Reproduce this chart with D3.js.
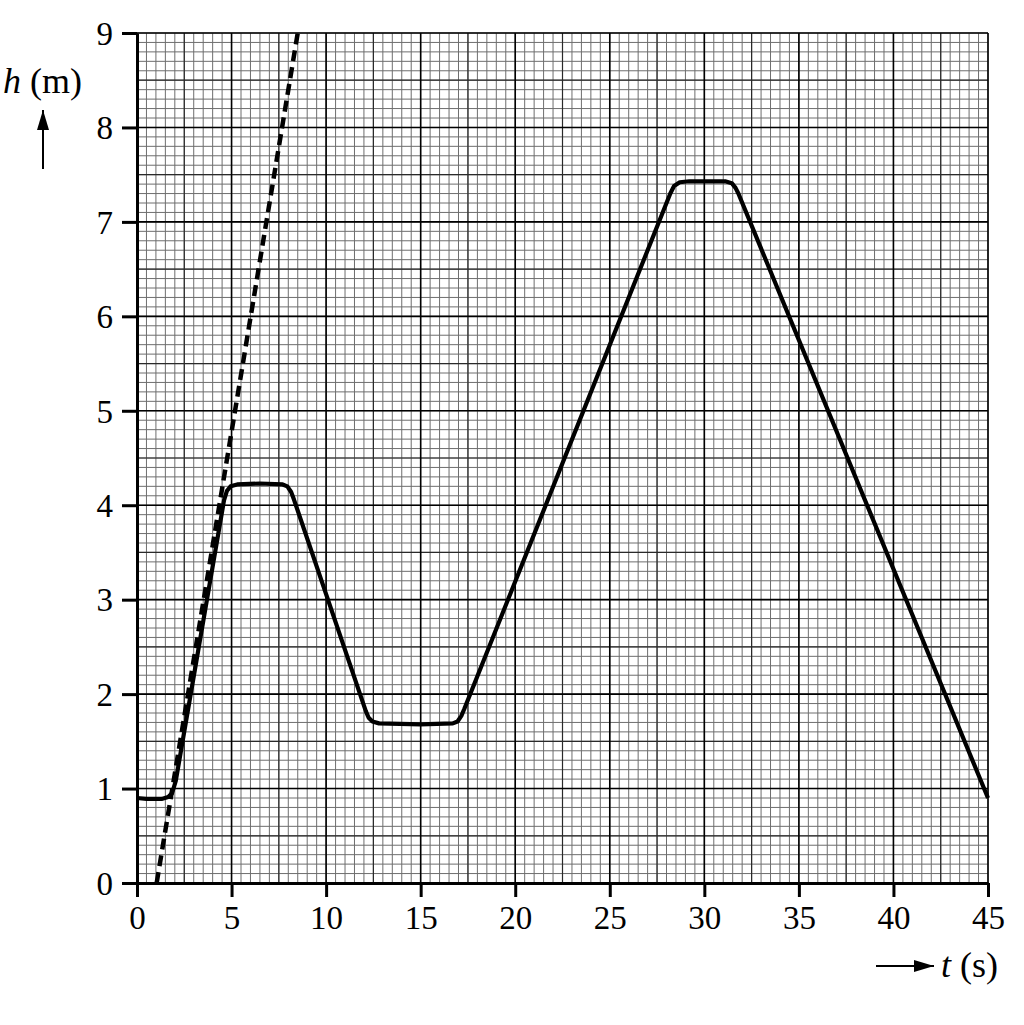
<!DOCTYPE html>
<html>
<head>
<meta charset="utf-8">
<script src="https://cdn.jsdelivr.net/npm/d3@7"></script>
<style>
  body { margin: 0; background: #fff; }
  svg { display: block; }
  text { font-family: "Liberation Serif", "Times New Roman", serif; fill: #000; }
</style>
</head>
<body>
<svg width="1024" height="1025"></svg>
<script>
// height h (m) against time t (s)
const curveT = [0, 0.5, 1.3, 1.65, 1.85, 2.05,
  4.6, 4.75, 4.95, 5.3, 6.5, 7.7, 7.95, 8.15, 8.3,
  12.1, 12.25, 12.45, 12.8, 15, 16.7, 16.95, 17.15, 17.3,
  28.2, 28.4, 28.7, 29.2, 30, 31.1, 31.45, 31.65, 31.8, 45];
const curveH = [0.9, 0.89, 0.89, 0.91, 0.95, 1.08,
  4.05, 4.15, 4.2, 4.22, 4.23, 4.22, 4.2, 4.14, 4.06,
  1.82, 1.75, 1.71, 1.69, 1.68, 1.69, 1.71, 1.77, 1.84,
  7.3, 7.38, 7.42, 7.43, 7.43, 7.43, 7.41, 7.36, 7.3, 0.9];

// dashed tangent line
const tangentT = [1.04, 8.5];
const tangentH = [0, 9];

const xTicks = [0, 5, 10, 15, 20, 25, 30, 35, 40, 45];
const yTicks = [0, 1, 2, 3, 4, 5, 6, 7, 8, 9];

const svg = d3.select('svg');
const x = d3.scaleLinear().domain([0, 45]).range([137, 988]);
const y = d3.scaleLinear().domain([0, 9]).range([883, 33]);

const grid = svg.append('g');

// minor grid: 0.5 s and 0.1 m
const minorX = d3.range(0, 45.01, 0.5);
const minorY = d3.range(0, 9.001, 0.1);
grid.selectAll('.mx').data(minorX).join('line')
    .attr('x1', d => x(d)).attr('x2', d => x(d))
    .attr('y1', y(0)).attr('y2', y(9))
    .attr('stroke', '#6e6e6e').attr('stroke-width', 1);
grid.selectAll('.my').data(minorY).join('line')
    .attr('x1', x(0)).attr('x2', x(45))
    .attr('y1', d => y(d)).attr('y2', d => y(d))
    .attr('stroke', '#6e6e6e').attr('stroke-width', 1);

// medium lines at 2.5 s and 0.5 m
const midX = d3.range(2.5, 45, 5);
const midY = d3.range(0.5, 9, 1);
grid.selectAll('.dx').data(midX).join('line')
    .attr('x1', d => x(d)).attr('x2', d => x(d))
    .attr('y1', y(0)).attr('y2', y(9))
    .attr('stroke', '#2a2a2a').attr('stroke-width', 1.2);
grid.selectAll('.dy').data(midY).join('line')
    .attr('x1', x(0)).attr('x2', x(45))
    .attr('y1', d => y(d)).attr('y2', d => y(d))
    .attr('stroke', '#2a2a2a').attr('stroke-width', 1.2);

// major lines
grid.selectAll('.Mx').data(xTicks).join('line')
    .attr('x1', d => x(d)).attr('x2', d => x(d))
    .attr('y1', y(0)).attr('y2', y(9))
    .attr('stroke', '#000').attr('stroke-width', 1.6);
grid.selectAll('.My').data(yTicks).join('line')
    .attr('x1', x(0)).attr('x2', x(45))
    .attr('y1', d => y(d)).attr('y2', d => y(d))
    .attr('stroke', '#000').attr('stroke-width', 1.6);

// axes
const xAxis = d3.axisBottom(x).tickValues(xTicks).tickSize(14).tickPadding(9).tickSizeOuter(0);
const yAxis = d3.axisLeft(y).tickValues(yTicks).tickSize(15).tickPadding(9).tickSizeOuter(0);

const gx = svg.append('g').attr('transform', `translate(0,${y(0)})`).call(xAxis);
const gy = svg.append('g').attr('transform', `translate(${x(0)},0)`).call(yAxis);
[gx, gy].forEach(g => {
  g.attr('font-family', null);
  g.select('.domain').attr('stroke', '#000').attr('stroke-width', 3);
  g.selectAll('.tick line').attr('stroke', '#000').attr('stroke-width', 3);
  g.selectAll('.tick text')
    .style('font-family', '"Liberation Serif", "Times New Roman", serif')
    .attr('font-size', 33).attr('fill', '#000');
});
gy.selectAll('.tick text').attr('dy', '0.34em');

// tangent (dashed)
const line = d3.line().x(d => x(d[0])).y(d => y(d[1]));
svg.append('path')
    .attr('d', line(d3.zip(tangentT, tangentH)))
    .attr('fill', 'none').attr('stroke', '#000')
    .attr('stroke-width', 4.5).attr('stroke-dasharray', '11,6');

// measured curve
svg.append('path')
    .attr('d', line(d3.zip(curveT, curveH)))
    .attr('fill', 'none').attr('stroke', '#000')
    .attr('stroke-width', 4.2).attr('stroke-linejoin', 'round');

// axis labels
const yl = svg.append('text').attr('x', 3).attr('y', 93).attr('font-size', 36);
yl.append('tspan').attr('font-style', 'italic').text('h');
yl.append('tspan').text(' (m)');

svg.append('defs').append('marker')
    .attr('id', 'ah').attr('viewBox', '0 0 10 10')
    .attr('refX', 10).attr('refY', 5)
    .attr('markerWidth', 20).attr('markerHeight', 12)
    .attr('markerUnits', 'userSpaceOnUse')
    .attr('orient', 'auto')
    .attr('preserveAspectRatio', 'none')
    .append('path').attr('d', 'M0,0L10,5L0,10z').attr('fill', '#000');

svg.append('line').attr('x1', 43).attr('x2', 43).attr('y1', 169).attr('y2', 110)
    .attr('stroke', '#000').attr('stroke-width', 2).attr('marker-end', 'url(#ah)');

svg.append('line').attr('x1', 876).attr('x2', 934).attr('y1', 966).attr('y2', 966)
    .attr('stroke', '#000').attr('stroke-width', 2).attr('marker-end', 'url(#ah)');

const xl = svg.append('text').attr('x', 941).attr('y', 977).attr('font-size', 36);
xl.append('tspan').attr('font-style', 'italic').text('t');
xl.append('tspan').text(' (s)');
</script>
</body>
</html>
